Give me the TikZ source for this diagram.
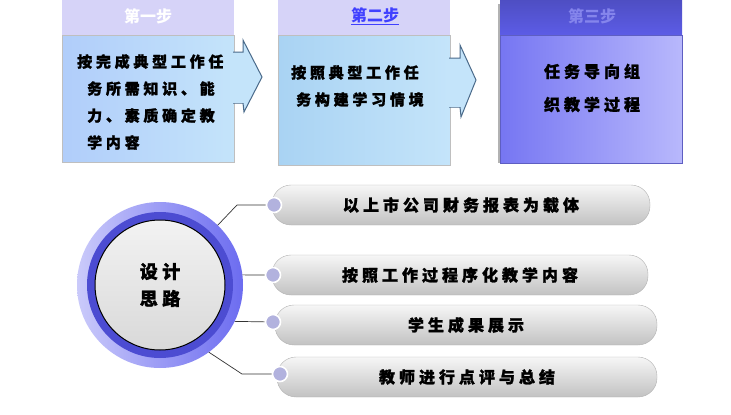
\documentclass[tikz,border=0pt]{standalone}
\usepackage{fontspec}
\newfontfamily\cjk{Noto Sans CJK SC}
\newfontfamily\cjkwide{Noto Sans CJK SC}[LetterSpace=25, BoldFeatures={FakeBold=1.5}]
\usetikzlibrary{positioning}

\definecolor{headlav}{HTML}{D6D3F8}
\definecolor{bodyblue}{HTML}{C4E4FA}
\definecolor{bodyblueb}{HTML}{A9D3F3}
\definecolor{arrowedge}{HTML}{4A6A8A}
\definecolor{deephead}{HTML}{5C5CE6}
\definecolor{deepbodya}{HTML}{7676F2}
\definecolor{deepbodyb}{HTML}{B8B8FC}
\definecolor{ringlight}{HTML}{CACAFA}
\definecolor{ringmid}{HTML}{6C6CF0}
\definecolor{ringdark}{HTML}{4C4CD2}
\definecolor{barhi}{HTML}{F6F6F6}
\definecolor{barlo}{HTML}{C2C2C2}
\definecolor{dotfill}{HTML}{B2B2DE}

\tikzset{
  headtext/.style={font=\cjk\bfseries\fontsize{16}{18}\selectfont, inner sep=0pt},
  steptext/.style={font=\cjkwide\bfseries\fontsize{15}{27}\selectfont, inner sep=0pt},
  bartext/.style={font=\cjkwide\bfseries\fontsize{16}{18}\selectfont},
  bar/.style={rounded corners=19pt, draw=gray!60, top color=barhi, bottom color=barlo,
    minimum height=40pt, inner sep=0pt, bartext},
  dot/.style={circle, fill=dotfill, draw=white, line width=1.6pt, minimum size=15pt, inner sep=0pt},
  link/.style={draw=black!80, line width=0.7pt}
}

\begin{document}
\begin{tikzpicture}[x=1pt, y=-1pt]
    \useasboundingbox (0,0) rectangle (731,415);

    % Step one (header + body)
    \fill[headlav] (62,0) rectangle (234,35);
    \draw[draw=black!25, left color=bodyblue!90!blue, right color=bodyblue] (62,35) rectangle (234,162);
    \draw[arrowedge, line width=1pt, fill=bodyblue]
        (233,52) -- (243,52) -- (243,40) -- (262,77) -- (244,112) -- (243,103) -- (233,103);
    \fill[bodyblue] (230,53) rectangle (243.5,102.5);
    \node[headtext, white] (head1) at (148,16) {第一步};
    \node[steptext, align=left, anchor=west] (text1) at (77,102)
        {按完成典型工作任\\\hspace{10pt}务所需知识、能\\\hspace{10pt}力、素质确定教\\\hspace{10pt}学内容};

    % Step two (header + body)
    \fill[headlav] (278,0) rectangle (450,35);
    \draw[draw=black!25, left color=bodyblueb, right color=bodyblue] (278,35) rectangle (450,165);
    \draw[arrowedge, line width=1pt, fill=bodyblue]
        (449,58) -- (460,58) -- (460,45) -- (476,80) -- (461,117) -- (460,107) -- (449,107);
    \fill[bodyblue] (446,59) rectangle (460.5,106.5);
    \node[headtext, blue!75!white] (head2) at (375,16) {\underline{第二步}};
    \node[steptext, align=left, anchor=west] (text2) at (291,86)
        {按照典型工作任\\\hspace{5pt}务构建学习情境};

    % Step three (header + body)
    \fill[black!30] (498,4) rectangle (502,163);
    \fill[top color=deephead!85!black, bottom color=deephead] (500,0) rectangle (682,35);
    \draw[draw=deepbodya!80!black, shading angle=45, left color=deepbodya, right color=deepbodyb]
        (500,35) rectangle (682,163);
    \node[headtext, deephead!75!white] (head3) at (592,16) {第三步};
    \node[steptext, font=\cjkwide\bfseries\fontsize{16}{33}\selectfont, align=center] (text3) at (592,88)
        {任务导向组\\织教学过程};

    % Design circle
    \node[circle, minimum size=166pt, outer sep=0pt, shading angle=-60,
          left color=ringlight, right color=ringmid] (ring) at (160,285) {};
    \node[circle, minimum size=146pt, fill=ringdark] (band) at (ring) {};
    \node[circle, minimum size=130pt, draw=black, line width=1pt,
          top color=gray!10, bottom color=gray!30, align=center,
          font=\cjkwide\bfseries\fontsize{18}{27}\selectfont] (core) at (ring) {设计\\思路};

    % Idea bars
    \node[bar, minimum width=378pt] (bar1) at (461,205) {以上市公司财务报表为载体};
    \node[bar, minimum width=376pt] (bar2) at (460,275) {按照工作过程序化教学内容};
    \node[bar, minimum width=382pt] (bar3) at (466,325) {学生成果展示};
    \node[bar, minimum width=380pt] (bar4) at (467,377) {教师进行点评与总结};

    % Bullet dots
    \foreach \n/\x/\y in {1/274/205, 2/273/275, 3/273/322, 4/280/374}
        \node[dot] (dot\n) at (\x,\y) {};

    % Connectors
    \draw[link] (ring.46) -- ([xshift=-37pt]dot1.center) -- (dot1);
    \draw[link] (ring.7) -- (dot2);
    \draw[link] (ring.-26) -- (dot3);
    \draw[link] (ring.-54) -- ([xshift=-38pt]dot4.center) -- (dot4);
\end{tikzpicture}
\end{document}
